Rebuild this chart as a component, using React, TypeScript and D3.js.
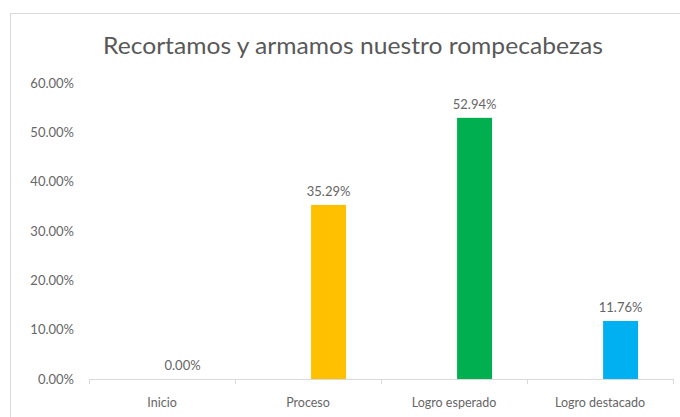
import { useEffect, useRef } from 'react'
import * as d3 from 'd3'

const categories = ['Inicio', 'Proceso', 'Logro esperado', 'Logro destacado']
const values = [0, 35.29, 52.94, 11.76]
const barColors = ['#FFC000', '#FFC000', '#00B050', '#00B0F0']
const yTicks = [0, 10, 20, 30, 40, 50, 60]
const series = ['vacía', 'Porcentaje']

const W = 680
const H = 417
const TITLE = 'Recortamos y armamos nuestro rompecabezas'
const FONT = 'Lato, "Open Sans", sans-serif'

export default function App() {
  const svgRef = useRef<SVGSVGElement>(null)

  useEffect(() => {
    if (!svgRef.current) return
    const svg = d3.select(svgRef.current)
    svg.selectAll('*').remove()

    // chart frame (only top and left edges fall inside the crop)
    svg.append('rect')
      .attr('x', 10.5).attr('y', 13.5)
      .attr('width', W).attr('height', H)
      .attr('fill', '#fff').attr('stroke', '#d9d9d9').attr('stroke-width', 1)

    svg.append('text')
      .attr('x', 353).attr('y', 54)
      .attr('text-anchor', 'middle')
      .attr('textLength', 500).attr('lengthAdjust', 'spacingAndGlyphs')
      .style('font-family', FONT).style('font-size', '23px')
      .style('fill', '#595959')
      .text(TITLE)

    const x = d3.scaleBand().domain(categories).range([89, 673]).padding(0)
    const x1 = d3.scaleBand().domain(series).range([0, x.bandwidth()])
      .paddingInner(0.15).paddingOuter(0.85)
    const y = d3.scaleLinear().domain([0, 60]).range([379, 83])

    const g = svg.append('g')

    // category axis
    g.append('line')
      .attr('x1', 89).attr('x2', 673)
      .attr('y1', 379.5).attr('y2', 379.5)
      .attr('stroke', '#d9d9d9').attr('stroke-width', 1)
    const bounds = categories.map(c => x(c) as number).concat([673])
    g.selectAll('line.tick').data(bounds).join('line')
      .attr('class', 'tick')
      .attr('x1', d => d + 0.5).attr('x2', d => d + 0.5)
      .attr('y1', 379).attr('y2', 384)
      .attr('stroke', '#d9d9d9')

    g.selectAll('text.cat').data(categories).join('text')
      .attr('class', 'cat')
      .attr('x', d => (x(d) as number) + x.bandwidth() / 2)
      .attr('y', 407)
      .attr('text-anchor', 'middle')
      .style('font-family', FONT).style('font-size', '12.5px')
      .style('fill', '#666')
      .text(d => d)

    g.selectAll('text.ytick').data(yTicks).join('text')
      .attr('class', 'ytick')
      .attr('x', 74)
      .attr('y', d => y(d))
      .attr('dy', '0.35em')
      .attr('text-anchor', 'end')
      .style('font-family', FONT).style('font-size', '13px')
      .style('fill', '#666')
      .text(d => d.toFixed(2) + '%')

    const bx = (c: string) => (x(c) as number) + (x1(series[1]) as number)

    g.selectAll('rect.bar').data(values).join('rect')
      .attr('class', 'bar')
      .attr('x', (d, i) => bx(categories[i]))
      .attr('y', d => y(d))
      .attr('width', x1.bandwidth())
      .attr('height', d => y(0) - y(d))
      .attr('fill', (d, i) => barColors[i])

    g.selectAll('text.lbl').data(values).join('text')
      .attr('class', 'lbl')
      .attr('x', (d, i) => bx(categories[i]) + x1.bandwidth() / 2)
      .attr('y', d => y(d) - 9)
      .attr('text-anchor', 'middle')
      .style('font-family', FONT).style('font-size', '13px')
      .style('fill', '#666')
      .text(d => d.toFixed(2) + '%')
  }, [])

  return (
    <div style={{ position: 'fixed', left: 0, top: 0, width: W, height: H, background: '#fff' }}>
      <svg ref={svgRef} width={W} height={H} style={{ display: 'block' }} />
    </div>
  )
}
